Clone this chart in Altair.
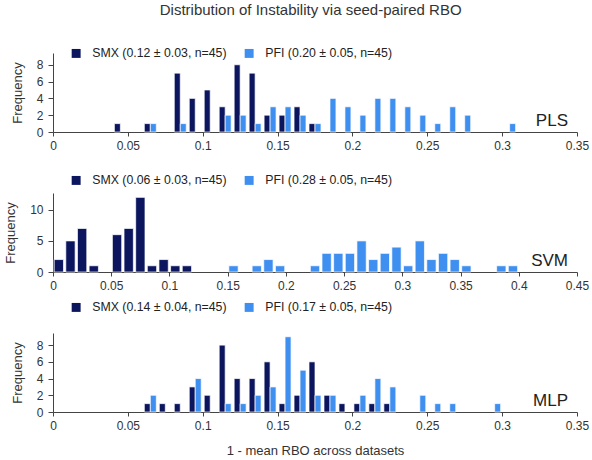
import altair as alt
import pandas as pd

TITLE = "Distribution of Instability via seed-paired RBO"
X_TITLE = "1 - mean RBO across datasets"
Y_TITLE = "Frequency"
BIN_W = 0.01
DARK = "#0b165e"
LIGHT = "#3f8ff0"
FONT = "Liberation Sans"
TXT = "#333333"

# ---- PLS (bins of width 0.01 starting at 0.04) ----
pls_bin_start = 0.04
pls_smx = [1, 0, 1, 0, 7, 4, 5, 3, 8, 7, 2, 2, 3, 1, 0, 0, 0, 0, 0, 0, 0, 0, 0, 0, 0, 0, 0]
pls_pfi = [0, 0, 1, 0, 1, 0, 0, 2, 2, 1, 3, 3, 2, 1, 4, 3, 2, 4, 4, 3, 2, 1, 3, 2, 0, 0, 1]
pls_labels = ["SMX (0.12 ± 0.03, n=45)", "PFI (0.20 ± 0.05, n=45)"]

# ---- SVM (bins of width 0.01 starting at 0.00) ----
svm_bin_start = 0.0
svm_smx = [2, 5, 7, 1, 0, 6, 7, 12, 1, 2, 1, 1, 0, 0, 0, 0, 0, 0, 0, 0,
           0, 0, 0, 0, 0, 0, 0, 0, 0, 0, 0, 0, 0, 0, 0, 0, 0, 0, 0, 0]
svm_pfi = [0, 0, 0, 0, 0, 0, 0, 0, 0, 0, 0, 0, 0, 0, 0, 1, 0, 1, 2, 1,
           0, 0, 1, 3, 3, 3, 5, 2, 3, 4, 1, 5, 2, 3, 2, 1, 0, 0, 1, 1]
svm_labels = ["SMX (0.06 ± 0.03, n=45)", "PFI (0.28 ± 0.05, n=45)"]

# ---- MLP (bins of width 0.01 starting at 0.06) ----
mlp_bin_start = 0.06
mlp_smx = [1, 1, 1, 3, 2, 8, 4, 4, 6, 1, 2, 6, 2, 1, 1, 1, 1, 0, 0, 0, 0, 0, 0, 0]
mlp_pfi = [2, 0, 0, 4, 0, 1, 1, 2, 3, 9, 5, 2, 2, 0, 2, 4, 3, 0, 2, 1, 1, 0, 0, 1]
mlp_labels = ["SMX (0.14 ± 0.04, n=45)", "PFI (0.17 ± 0.05, n=45)"]

x_ticks_035 = [0, 0.05, 0.1, 0.15, 0.2, 0.25, 0.3, 0.35]
x_ticks_045 = [0, 0.05, 0.1, 0.15, 0.2, 0.25, 0.3, 0.35, 0.4, 0.45]
pls_yticks = [0, 2, 4, 6, 8]
svm_yticks = [0, 5, 10]
mlp_yticks = [0, 2, 4, 6, 8]

W, H = 524, 79


def panel_df(start, smx, pfi, labels):
    rows = []
    for i, (a, b) in enumerate(zip(smx, pfi)):
        bs = round(start + i * BIN_W, 4)
        rows.append({"bin_start": bs, "count": a, "series": "SMX", "label": labels[0]})
        rows.append({"bin_start": bs, "count": b, "series": "PFI", "label": labels[1]})
    return pd.DataFrame(rows)


def panel(df, labels, name, ymax, yticks, xmax, xticks, dodge, legend_y, x_title):
    if dodge:
        lo = "(datum.series == 'SMX' ? 0.1 : 0.5)"
        hi = "(datum.series == 'SMX' ? 0.5 : 0.9)"
    else:
        lo = "0.1"
        hi = "0.9"
    xaxis = alt.Axis(values=xticks, format="~g", title=x_title, labelFlush=False) if x_title else \
        alt.Axis(values=xticks, format="~g", title=None, labelFlush=False)
    bars = (
        alt.Chart(df)
        .transform_filter("datum.count > 0")
        .transform_calculate(
            x0=f"datum.bin_start + {lo} * {BIN_W}",
            x1=f"datum.bin_start + {hi} * {BIN_W}",
        )
        .mark_rect(stroke="white", strokeWidth=0.7, opacity=1)
        .encode(
            x=alt.X("x0:Q", scale=alt.Scale(domain=[0, xmax], nice=False, zero=False), axis=xaxis),
            x2="x1:Q",
            y=alt.Y("count:Q", scale=alt.Scale(domain=[0, ymax], nice=False),
                    axis=alt.Axis(values=yticks, title=Y_TITLE)),
            y2=alt.datum(0),
            color=alt.Color(
                "label:N",
                sort=labels,
                scale=alt.Scale(domain=labels, range=[DARK, LIGHT]),
                legend=alt.Legend(
                    orient="none", legendX=17, legendY=legend_y, direction="horizontal",
                    title=None, symbolType="square", symbolSize=80, symbolStrokeWidth=0,
                    labelFontSize=12.3, labelOffset=10, columnPadding=16, labelColor="#222222",
                    padding=0, labelFont=FONT,
                ),
            ),
        )
    )
    label = alt.Chart(pd.DataFrame({"t": [name]})).mark_text(
        align="right", baseline="alphabetic", fontSize=17, color="#222222", font=FONT
    ).encode(text="t:N", x=alt.value(515), y=alt.value(72.5))
    spacer = alt.Chart(pd.DataFrame({"s": [0]})).mark_rule(strokeOpacity=0).encode(
        x=alt.value(0), x2=alt.value(10), y=alt.value(-33), y2=alt.value(-33)
    )
    return alt.layer(bars, label, spacer).properties(width=W, height=H)


pls = panel(panel_df(pls_bin_start, pls_smx, pls_pfi, pls_labels), pls_labels, "PLS",
            9.4, pls_yticks, 0.35, x_ticks_035, True, -6, None)
svm = panel(panel_df(svm_bin_start, svm_smx, svm_pfi, svm_labels), svm_labels, "SVM",
            12.7, svm_yticks, 0.45, x_ticks_045, False, -19, None)
mlp = panel(panel_df(mlp_bin_start, mlp_smx, mlp_pfi, mlp_labels), mlp_labels, "MLP",
            9.45, mlp_yticks, 0.35, x_ticks_035, True, -32, X_TITLE)

chart = (
    alt.vconcat(pls, svm, mlp, spacing=9)
    .resolve_scale(color="independent", x="independent", y="independent")
    .resolve_legend(color="independent")
    .properties(
        title=alt.TitleParams(TITLE, fontSize=15, fontWeight="normal", color=TXT,
                              anchor="middle", font=FONT, dx=14, offset=2),
        padding={"left": 4, "top": 3, "right": 0, "bottom": 0},
    )
    .configure(font=FONT)
    .configure_view(stroke=None)
    .configure_axis(
        grid=False, labelFontSize=12, titleFontSize=13, titleFontWeight="normal",
        labelColor=TXT, titleColor=TXT, domainColor="#444444", tickColor="#444444",
        labelFont=FONT, titleFont=FONT,
    )
    .configure_axisX(tickSize=4, labelPadding=4, titlePadding=13)
    .configure_axisY(tickSize=5, labelPadding=5, titlePadding=12)
)

chart.save("out.html", embed_options={"renderer": "svg", "actions": False})
